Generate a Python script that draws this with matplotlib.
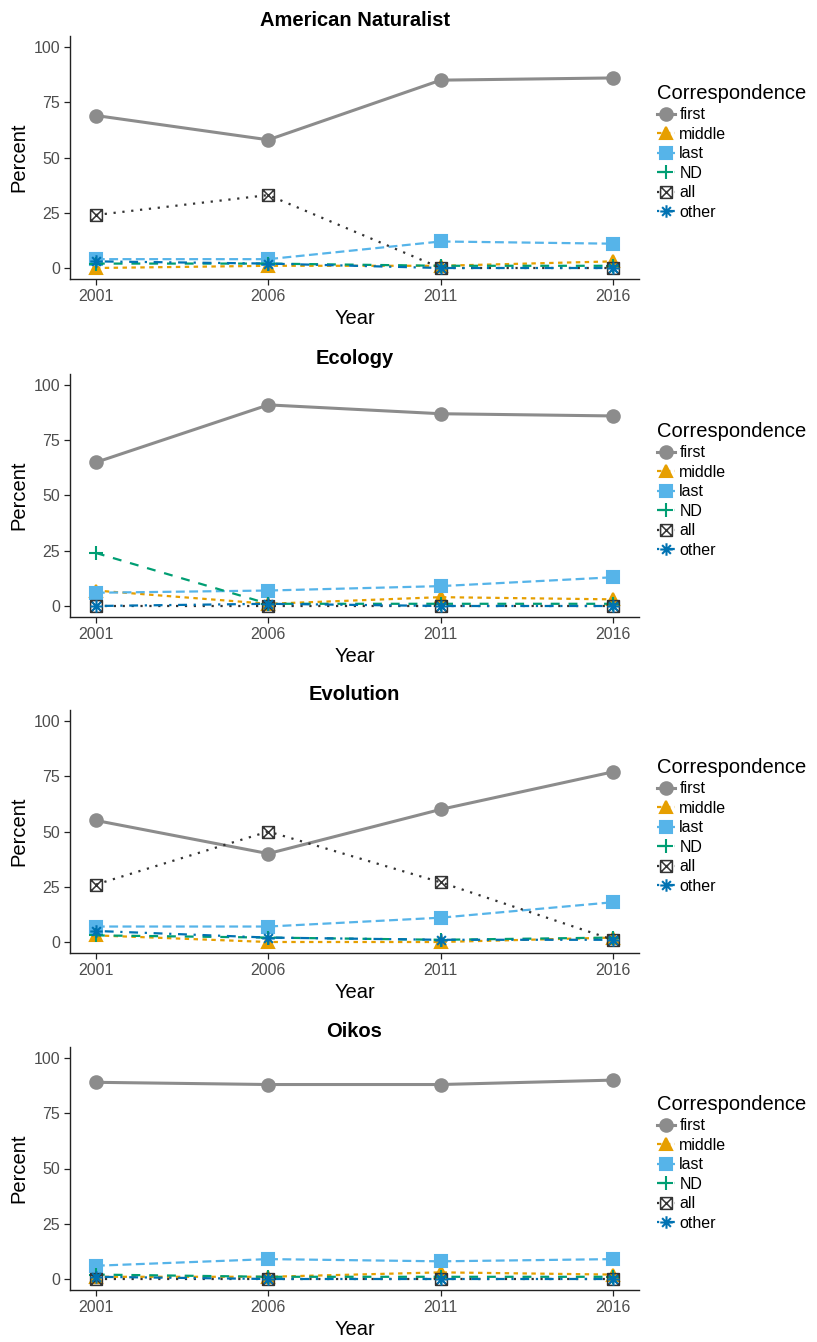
#!/usr/bin/env python3
"""
Corresponding-author position by year, four journals -> out.png
"""
import numpy as np
import matplotlib
matplotlib.use("Agg")
import matplotlib.pyplot as plt
from matplotlib.path import Path

plt.rcParams["font.family"] = ["Liberation Sans", "DejaVu Sans"]

YEARS = [2001, 2006, 2011, 2016]
JOURNALS = ["American Naturalist", "Ecology", "Evolution", "Oikos"]
CATEGORIES = ["first", "middle", "last", "ND", "all", "other"]

# rows follow CATEGORIES, columns follow YEARS (percent)
amnat = [[69, 58, 85, 86],
         [0, 1, 1, 3],
         [4, 4, 12, 11],
         [2, 2, 1, 1],
         [24, 33, 0, 0],
         [3, 2, 0, 0]]
ecology = [[65, 91, 87, 86],
           [7, 1, 4, 3],
           [6, 7, 9, 13],
           [24, 1, 1, 1],
           [0, 0, 0, 0],
           [0, 1, 0, 0]]
evolution = [[55, 40, 60, 77],
             [3, 0, 0, 2],
             [7, 7, 11, 18],
             [3, 2, 1, 2],
             [26, 50, 27, 1],
             [5, 2, 1, 1]]
oikos = [[89, 88, 88, 90],
         [1, 1, 3, 2],
         [6, 9, 8, 9],
         [2, 1, 1, 1],
         [0, 0, 0, 0],
         [1, 0, 0, 0]]
PANELS = [amnat, ecology, evolution, oikos]

# --- styling ---
COLORS = ["#8c8c8c", "#E69F00", "#56B4E9", "#009E73", "#333333", "#0072B2"]
BOX_X = Path([(-1, -1), (1, -1), (1, 1), (-1, 1), (-1, -1), (-1, -1), (1, 1), (-1, 1), (1, -1)],
             [Path.MOVETO, Path.LINETO, Path.LINETO, Path.LINETO, Path.CLOSEPOLY,
              Path.MOVETO, Path.LINETO, Path.MOVETO, Path.LINETO])
STAR = Path([(-1, 0), (1, 0), (0, -1), (0, 1), (-.7, -.7), (.7, .7), (-.7, .7), (.7, -.7)],
            [Path.MOVETO, Path.LINETO] * 4)
MARKERS = ["o", "^", "s", "+", BOX_X, STAR]
MSIZE = [9, 9, 8.5, 10, 8.5, 9]
DASHES = [None, (2, 2), (4, 2), (4, 4), (1, 3), (1, 3, 4, 3)]
LWS = [2.2, 1.6, 1.6, 1.6, 1.6, 1.6]

W, H = 817, 1342
ZERO_Y = [268, 606, 942, 1279]       # pixel row of y=0 in each panel
PX_PER_UNIT = 2.21

fig = plt.figure(figsize=(W / 100, H / 100), dpi=100)

for k, (name, data) in enumerate(zip(JOURNALS, PANELS)):
    z = ZERO_Y[k]
    top = z - 105 * PX_PER_UNIT
    bot = z + 5 * PX_PER_UNIT
    ax = fig.add_axes([70 / W, 1 - bot / H, 569 / W, (bot - top) / H])
    ax.patch.set_alpha(0)
    for i, cat in enumerate(CATEGORIES):
        hollow = i == 4
        ln, = ax.plot(YEARS, data[i], color=COLORS[i], lw=LWS[i], marker=MARKERS[i], ms=MSIZE[i],
                      mfc="none" if hollow else COLORS[i], mec=COLORS[i],
                      mew=1.1 if hollow else 1.5, label=cat, zorder=2 + i)
        if DASHES[i] is not None:
            ln.set_dashes(DASHES[i])
    ax.set_xlim(2000.25, 2016.75)
    ax.set_ylim(-5, 105)
    ax.set_xticks(YEARS)
    ax.set_yticks([0, 25, 50, 75, 100])
    for s in ["top", "right"]:
        ax.spines[s].set_visible(False)
    for s in ["left", "bottom"]:
        ax.spines[s].set_linewidth(1.0)
        ax.spines[s].set_color("#222222")
    ax.tick_params(labelsize=11.5, colors="#222222", labelcolor="#4d4d4d", length=4, width=0.9, pad=3)
    ax.set_title(name, fontsize=14.5, fontweight="bold", pad=7)
    ax.set_xlabel("Year", fontsize=14.5, labelpad=4)
    ax.set_ylabel("Percent", fontsize=14.5, labelpad=4)
    ax.legend(loc="upper left", bbox_to_anchor=(657 / W, 1 - (z - 184) / H),
              bbox_transform=fig.transFigure, frameon=False, fontsize=11.5,
              title="Correspondence", title_fontsize=14.5, handlelength=1.1,
              handletextpad=0.3, labelspacing=0.28, borderpad=0, borderaxespad=0,
              alignment="left")

fig.savefig("out.png", dpi=100)
plt.close(fig)
